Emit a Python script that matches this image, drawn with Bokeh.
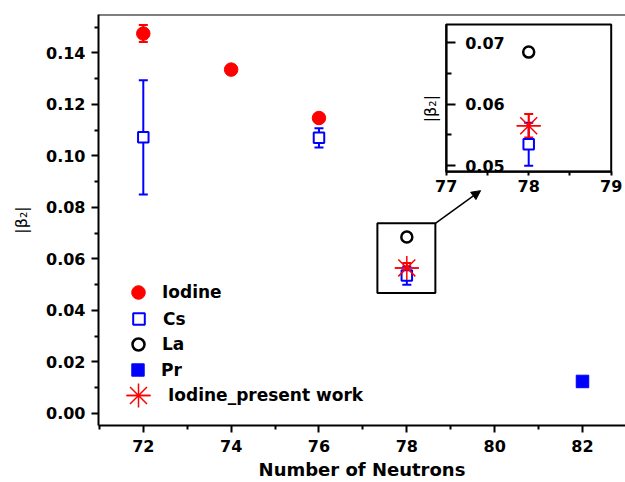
from math import pi
from bokeh.plotting import figure
from bokeh.models import (Range1d, LinearAxis, FixedTicker, NumeralTickFormatter,
                          ColumnDataSource, Whisker, TeeHead, Arrow, NormalHead,
                          Legend, LegendItem, Label, Span)
from bokeh.embed import file_html
from bokeh.resources import INLINE

# ---------------- data ----------------
iodine_n = [72, 74, 76]
iodine_b = [0.1475, 0.1335, 0.1147]
iodine_err = [0.0033, 0.0, 0.0]

cs_n = [72, 76, 78]
cs_b = [0.1072, 0.1070, 0.0535]
cs_err = [0.0222, 0.0037, 0.0035]

la_n = [78]
la_b = [0.0685]

pr_n = [82]
pr_b = [0.0124]

present_n = [78]
present_b = [0.0565]
present_err = [0.0019]

x_major = [72, 74, 76, 78, 80, 82]
x_minor = [71, 73, 75, 77, 79, 81, 83]
y_major = [0.00, 0.02, 0.04, 0.06, 0.08, 0.10, 0.12, 0.14]
y_minor = [0.01, 0.03, 0.05, 0.07, 0.09, 0.11, 0.13, 0.15]

inset_x = (77, 79)
inset_y = (0.049, 0.073)
inset_x_major = [77, 78, 79]
inset_x_minor = [77.5, 78.5]
inset_y_major = [0.05, 0.06, 0.07]
inset_y_minor = [0.055, 0.065]

zoom_box_x = (77.33, 78.65)
zoom_box_y = (0.0468, 0.0738)

legend_labels = ["Iodine", "Cs", "La", "Pr", "Iodine_present work"]

RED = "#FF0000"
BLUE = "#0000FF"
FONT = "DejaVu Sans"

# ---------------- layout geometry ----------------
FR_L, FR_W, FR_T, FR_H = 98, 527, 14, 411
W, H = 625, 482
X0 = 70.98
PX_PER_X = 43.92
Y0, Y1 = -0.0047, 0.1549

# inset box in pixels (left, right, top, bottom)
IB_L, IB_R, IB_T, IB_B = 445.7, 610.7, 24.0, 171.3

p = figure(width=W, height=H, output_backend="svg", toolbar_location=None,
           x_range=Range1d(X0, X0 + FR_W / PX_PER_X), y_range=Range1d(Y0, Y1),
           min_border_left=FR_L, min_border_right=W - FR_L - FR_W,
           min_border_top=FR_T, min_border_bottom=H - FR_T - FR_H)
p.outline_line_color = None
p.grid.visible = False
p.background_fill_color = "white"
p.border_fill_color = "white"

# inset ranges mapped onto the same frame
ixs = (inset_x[1] - inset_x[0]) / (IB_R - IB_L)
ix_start = inset_x[0] - (IB_L - FR_L) * ixs
iys = (inset_y[1] - inset_y[0]) / (IB_B - IB_T)
iy_end = inset_y[1] + (IB_T - FR_T) * iys
p.extra_x_ranges = {"ix": Range1d(ix_start, ix_start + FR_W * ixs)}
p.extra_y_ranges = {"iy": Range1d(iy_end - FR_H * iys, iy_end)}


def style_axis(ax):
    ax.axis_line_width = 2
    ax.axis_line_color = "black"
    ax.major_tick_line_width = 2
    ax.minor_tick_line_width = 2
    ax.major_tick_line_color = "black"
    ax.minor_tick_line_color = "black"
    ax.major_tick_in = 0
    ax.minor_tick_in = 0
    ax.major_label_text_font = FONT
    ax.major_label_text_font_style = "bold"
    ax.major_label_text_font_size = "16px"
    ax.major_label_text_color = "black"
    ax.axis_label_text_color = "black"


# ---------------- main axes ----------------
for ax in (p.xaxis[0], p.yaxis[0]):
    style_axis(ax)
    ax.major_tick_out = 7
    ax.minor_tick_out = 4

p.xaxis.ticker = FixedTicker(ticks=x_major, minor_ticks=x_minor)
p.yaxis.ticker = FixedTicker(ticks=y_major, minor_ticks=y_minor)
p.yaxis.formatter = NumeralTickFormatter(format="0.00")
p.xaxis.major_label_standoff = 7
p.yaxis.major_label_standoff = 6
p.xaxis.axis_label = "Number of Neutrons"
p.xaxis.axis_label_text_font = FONT
p.xaxis.axis_label_text_font_style = "bold"
p.xaxis.axis_label_text_font_size = "18px"
p.xaxis.axis_label_standoff = 4
p.yaxis.axis_label = "|β₂|"
p.yaxis.axis_label_text_font = FONT
p.yaxis.axis_label_text_font_style = "normal"
p.yaxis.axis_label_text_font_size = "16px"
p.yaxis.axis_label_standoff = 12

p.add_layout(Span(location=Y1, dimension="width", line_color="black", line_width=2))

# ---------------- main glyphs ----------------
def src(ns, bs, es=None):
    d = dict(x=list(ns), y=list(bs))
    if es is not None:
        d["lo"] = [b - e for b, e in zip(bs, es)]
        d["hi"] = [b + e for b, e in zip(bs, es)]
    return ColumnDataSource(d)


s_i = src(iodine_n, iodine_b, iodine_err)
s_cs = src(cs_n, cs_b, cs_err)
s_la = src(la_n, la_b)
s_pr = src(pr_n, pr_b)
s_pw = src(present_n, present_b, present_err)


def whisker(source, color, xr="default", yr="default"):
    w = Whisker(source=source, base="x", lower="lo", upper="hi",
                line_color=color, line_width=2, level="underlay",
                upper_head=TeeHead(size=9, line_color=color, line_width=2),
                lower_head=TeeHead(size=9, line_color=color, line_width=2),
                x_range_name=xr, y_range_name=yr)
    p.add_layout(w)


whisker(s_i, RED)
whisker(s_cs, BLUE)
whisker(s_pw, RED)

SZ_I, SZ_CS, SZ_LA, SZ_PR, SZ_PW = 13.5, 10.5, 11, 12.5, 24

r_i = p.scatter("x", "y", source=s_i, marker="circle", size=SZ_I,
                fill_color=RED, line_color=RED)
r_cs = p.scatter("x", "y", source=s_cs, marker="square", size=SZ_CS,
                 fill_color="white", line_color=BLUE, line_width=2)
r_la = p.scatter("x", "y", source=s_la, marker="circle", size=SZ_LA,
                 fill_color="white", line_color="black", line_width=2.5)
r_pr = p.scatter("x", "y", source=s_pr, marker="square", size=SZ_PR,
                 fill_color=BLUE, line_color=BLUE)
r_pa = p.scatter("x", "y", source=s_pw, marker="asterisk", size=SZ_PW,
                 line_color=RED, line_width=1.5)
r_pd = p.scatter("x", "y", source=s_pw, marker="dash", size=SZ_PW,
                 line_color=RED, line_width=1.5)

# zoom box and arrow
p.quad(left=[zoom_box_x[0]], right=[zoom_box_x[1]], bottom=[zoom_box_y[0]],
       top=[zoom_box_y[1]], fill_color=None, line_color="black", line_width=2)
p.add_layout(Arrow(x_start=zoom_box_x[1], y_start=zoom_box_y[1],
                   x_end=79.68, y_end=0.0865, line_width=1.5, line_color="black",
                   end=NormalHead(size=9, fill_color="black", line_color="black")))

# ---------------- inset ----------------
p.quad(left=[inset_x[0]], right=[inset_x[1]], bottom=[inset_y[0]], top=[inset_y[1]],
       fill_color=None, line_color="black", line_width=2,
       x_range_name="ix", y_range_name="iy")


def in_inset(ns, bs, es=None):
    idx = [k for k, n in enumerate(ns) if inset_x[0] <= n <= inset_x[1]]
    return src([ns[k] for k in idx], [bs[k] for k in idx],
               None if es is None else [es[k] for k in idx])


i_cs = in_inset(cs_n, cs_b, cs_err)
i_la = in_inset(la_n, la_b)
i_pw = in_inset(present_n, present_b, present_err)

whisker(i_cs, BLUE, "ix", "iy")
whisker(i_pw, RED, "ix", "iy")
p.scatter("x", "y", source=i_cs, marker="square", size=SZ_CS, fill_color="white",
          line_color=BLUE, line_width=2, x_range_name="ix", y_range_name="iy")
p.scatter("x", "y", source=i_la, marker="circle", size=SZ_LA, fill_color="white",
          line_color="black", line_width=2.5, x_range_name="ix", y_range_name="iy")
p.scatter("x", "y", source=i_pw, marker="asterisk", size=SZ_PW, line_color=RED,
          line_width=1.5, x_range_name="ix", y_range_name="iy")
p.scatter("x", "y", source=i_pw, marker="dash", size=SZ_PW, line_color=RED,
          line_width=1.5, x_range_name="ix", y_range_name="iy")

ixa = LinearAxis(x_range_name="ix", y_range_name="iy", fixed_location=inset_y[0],
                 bounds=inset_x,
                 ticker=FixedTicker(ticks=inset_x_major, minor_ticks=inset_x_minor))
iya = LinearAxis(x_range_name="ix", y_range_name="iy", fixed_location=inset_x[0],
                 bounds=inset_y, formatter=NumeralTickFormatter(format="0.00"),
                 ticker=FixedTicker(ticks=inset_y_major, minor_ticks=inset_y_minor))
for ax in (ixa, iya):
    style_axis(ax)
ixa.major_tick_out = 4
ixa.minor_tick_out = 4
ixa.major_label_standoff = 4
iya.major_tick_out = 9
iya.minor_tick_out = 5
iya.major_label_standoff = 10
p.add_layout(ixa, "below")
p.add_layout(iya, "right")

p.add_layout(Label(x=76.81, y=0.0593, x_range_name="ix", y_range_name="iy",
                   text="|β₂|", angle=pi / 2, text_align="center",
                   text_baseline="middle", text_font=FONT,
                   text_font_size="16px", text_color="black"))

# ---------------- legend (one single-item legend per entry) ----------------
# (renderers, marker size, glyph centre x px, row centre y px, label start x px)
legend_rows = [
    ([r_i], SZ_I, 138, 292, 162),
    ([r_cs], SZ_CS + 1, 138, 318, 162),
    ([r_la], SZ_LA + 1, 138, 344, 162),
    ([r_pr], SZ_PR, 138, 370, 162),
    ([r_pa, r_pd], SZ_PW, 138, 395, 168),
]
for label, (rends, sz, cx, cy, lx) in zip(legend_labels, legend_rows):
    g = int(round(sz / 0.4))
    h = max(g, 20)
    leg = Legend(items=[LegendItem(label=label, renderers=rends)],
                 location=(int(round(cx - g / 2 - FR_L)),
                           int(round((FR_T + FR_H) - (cy + h / 2)))),
                 glyph_width=g, glyph_height=g, label_height=20,
                 label_standoff=max(0, int(round(lx - (cx + g / 2)))),
                 padding=0, margin=0, border_line_color=None,
                 background_fill_alpha=0, label_text_font=FONT,
                 label_text_font_style="bold", label_text_font_size="17px",
                 label_text_color="black")
    p.add_layout(leg)

open("out.html", "w").write(file_html(p, INLINE))
